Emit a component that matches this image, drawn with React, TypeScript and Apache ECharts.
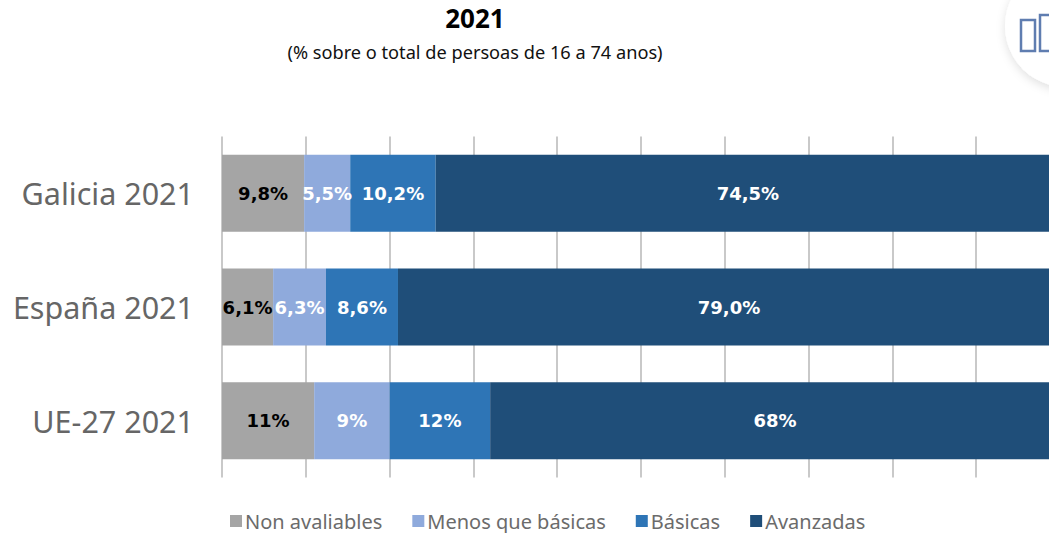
import React, { useEffect, useRef } from "react";
import * as echarts from "echarts";

const categories = ["Galicia 2021", "España 2021", "UE-27 2021"];
const nonAvaliables = [9.8, 6.1, 11];
const menosQueBasicas = [5.5, 6.3, 9];
const basicas = [10.2, 8.6, 12];
const avanzadas = [74.5, 79.0, 68];
const decimals = [1, 1, 0];
const FONT = "'Noto Sans', sans-serif";

const fmt = (v: number, i: number) => v.toFixed(decimals[i]).replace(".", ",") + "%";

const makeSeries = (name: string, data: number[], color: string, labelColor: string) => ({
  name,
  type: "bar",
  stack: "total",
  barWidth: 77,
  data,
  itemStyle: { color },
  label: {
    show: true,
    position: "inside",
    color: labelColor,
    fontFamily: "'DejaVu Sans', sans-serif",
    fontWeight: 700,
    fontSize: 18,
    formatter: (p: any) => fmt(p.value, p.dataIndex),
  },
});

export default function App() {
  const ref = useRef<HTMLDivElement>(null);
  useEffect(() => {
    const chart = echarts.init(ref.current!, null, { renderer: "svg" });
    chart.setOption({
      animation: false,
      backgroundColor: "#ffffff",
      title: {
        text: "2021",
        subtext: "(% sobre o total de persoas de 16 a 74 anos)",
        left: 470,
        top: 0,
        textAlign: "center",
        itemGap: 12,
        textStyle: { fontFamily: FONT, fontWeight: 700, fontSize: 26, color: "#000000" },
        subtextStyle: { fontFamily: FONT, fontSize: 18.2, color: "#111111" },
      },
      legend: {
        left: 230,
        top: 511,
        itemWidth: 12,
        itemHeight: 12,
        itemGap: 30,
        icon: "rect",
        padding: 0,
        data: ["Non avaliables", "Menos que básicas", "Básicas", "Avanzadas"],
        textStyle: { fontFamily: FONT, fontSize: 20, color: "#6b6b6b", padding: [0, 0, 0, -2] },
      },
      grid: { left: 222, top: 136.5, width: 838, height: 341, outerBoundsMode: "none" },
      xAxis: {
        type: "value",
        min: 0,
        max: 100,
        interval: 10,
        axisLabel: { show: false },
        axisTick: { show: false },
        axisLine: { show: false },
        splitLine: { show: true, lineStyle: { color: "#c9c9c9", width: 2 } },
      },
      yAxis: {
        type: "category",
        inverse: true,
        data: categories,
        axisTick: { show: false },
        axisLine: { show: false },
        axisLabel: { fontFamily: FONT, fontSize: 30.5, color: "#666666", margin: 28 },
      },
      series: [
        makeSeries("Non avaliables", nonAvaliables, "#a5a5a5", "#000000"),
        makeSeries("Menos que básicas", menosQueBasicas, "#8faadc", "#ffffff"),
        makeSeries("Básicas", basicas, "#2e75b6", "#ffffff"),
        makeSeries("Avanzadas", avanzadas, "#1f4e79", "#ffffff"),
      ],
      graphic: [
        {
          type: "circle",
          shape: { cx: 1066, cy: 26, r: 61 },
          style: {
            fill: "#ffffff",
            shadowBlur: 10,
            shadowColor: "rgba(0,0,0,0.12)",
            shadowOffsetY: 3,
          },
        },
        {
          type: "rect",
          shape: { x: 1021, y: 20, width: 14, height: 31 },
          style: { fill: "none", stroke: "#5f7db0", lineWidth: 2.5 },
        },
        {
          type: "rect",
          shape: { x: 1040, y: 15, width: 14, height: 36 },
          style: { fill: "none", stroke: "#5f7db0", lineWidth: 2.5 },
        },
      ],
    });
    return () => chart.dispose();
  }, []);
  return <div ref={ref} style={{ position: "fixed", left: 0, top: 0, width: 1049, height: 533 }} />;
}
